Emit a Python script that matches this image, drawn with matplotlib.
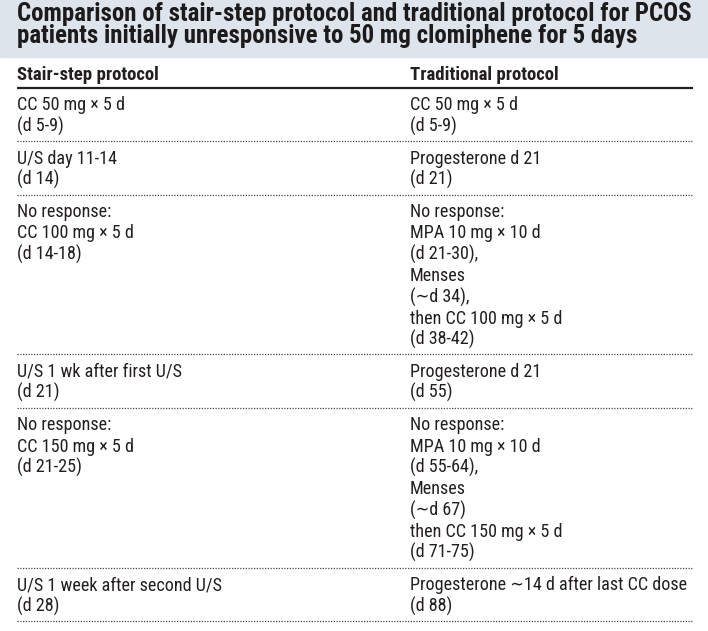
import matplotlib
matplotlib.use("Agg")
import matplotlib.pyplot as plt
from matplotlib import font_manager as fm

# table content
title_lines = ["Comparison of stair-step protocol and traditional protocol for PCOS",
               "patients initially unresponsive to 50 mg clomiphene for 5 days"]
col_headers = ["Stair-step protocol", "Traditional protocol"]
stair_step = [
    ["CC 50 mg \u00d7 5 d", "(d 5-9)"],
    ["U/S day 11-14", "(d 14)"],
    ["No response:", "CC 100 mg \u00d7 5 d", "(d 14-18)"],
    ["U/S 1 wk after first U/S", "(d 21)"],
    ["No response:", "CC 150 mg \u00d7 5 d", "(d 21-25)"],
    ["U/S 1 week after second U/S", "(d 28)"],
]
traditional = [
    ["CC 50 mg \u00d7 5 d", "(d 5-9)"],
    ["Progesterone d 21", "(d 21)"],
    ["No response:", "MPA 10 mg \u00d7 10 d", "(d 21-30),", "Menses", "(\u223cd 34),",
     "then CC 100 mg \u00d7 5 d", "(d 38-42)"],
    ["Progesterone d 21", "(d 55)"],
    ["No response:", "MPA 10 mg \u00d7 10 d", "(d 55-64),", "Menses", "(\u223cd 67)",
     "then CC 150 mg \u00d7 5 d", "(d 71-75)"],
    ["Progesterone \u223c14 d after last CC dose", "(d 88)"],
]

# look for a narrow sans that has both regular and bold weights
cond_stretch = {"condensed", "semi-condensed", "extra-condensed", "ultra-condensed"}
found = {}
for f in fm.fontManager.ttflist:
    st = f.stretch if isinstance(f.stretch, str) else "normal"
    if "Narrow" in f.name or "Condensed" in f.name or st in cond_stretch:
        w = f.weight if isinstance(f.weight, int) else fm.weight_dict.get(f.weight, 400)
        found.setdefault((f.name, st), set()).add(w)

main_font, stretch = "Liberation Sans", "normal"
good = [k for k, ws in found.items()
        if any(380 <= w <= 450 for w in ws) and any(w >= 650 for w in ws)]
order = ["Liberation Sans Narrow", "Arial Narrow", "Roboto Condensed", "Roboto",
         "Noto Sans", "Open Sans", "Open Sans Condensed"]
good.sort(key=lambda k: order.index(k[0]) if k[0] in order else len(order))
if good:
    main_font, stretch = good[0]
fonts = [main_font, "DejaVu Sans"]
ink = "#231f20"

W, H = 708, 631
fig = plt.figure(figsize=(W / 100, H / 100), dpi=100)
ax = fig.add_axes([0, 0, 1, 1])
ax.set_xlim(0, W)
ax.set_ylim(H, 0)
ax.axis("off")
renderer = fig.canvas.get_renderer()


def fit_size(text, weight, target_px, start=14.0):
    t = ax.text(0, 0, text, family=fonts, fontsize=start, fontweight=weight, fontstretch=stretch)
    w = t.get_window_extent(renderer).width
    t.remove()
    return start * target_px / w


left, right, col2 = 17, 693, 410
line_h = 21.3

title_fs = fit_size(title_lines[0], "bold", 676)
head_fs = fit_size(col_headers[1], "bold", 149)
body_fs = fit_size(traditional[-1][0], "normal", 280)

# title band
ax.axhspan(0, 57, color="#dde4eb", zorder=0)
for i, t in enumerate(title_lines):
    ax.text(left, 21 + i * 22.5, t, family=fonts, fontsize=title_fs, fontweight="bold",
            fontstretch=stretch, color="#1c1a1b", va="baseline", ha="left")

# column headers
for x, h in zip([left, col2], col_headers):
    ax.text(x, 80, h, family=fonts, fontsize=head_fs, fontweight="bold", fontstretch=stretch,
            color=ink, va="baseline", ha="left")
ax.hlines(88, left, right, color=ink, lw=1.6)

y = 88
for lcell, rcell in zip(stair_step, traditional):
    base = y + 22.5
    for x, cell in zip([left, col2], [lcell, rcell]):
        for j, line in enumerate(cell):
            ax.text(x, base + j * line_h, line, family=fonts, fontsize=body_fs,
                    fontstretch=stretch, color=ink, va="baseline", ha="left")
    n = max(len(lcell), len(rcell))
    y = base + (n - 1) * line_h + 9.5
    ax.hlines(y, left, right, color="#444444", lw=0.9, linestyles=(0, (1, 1.2)))

fig.savefig("out.png", dpi=100)
